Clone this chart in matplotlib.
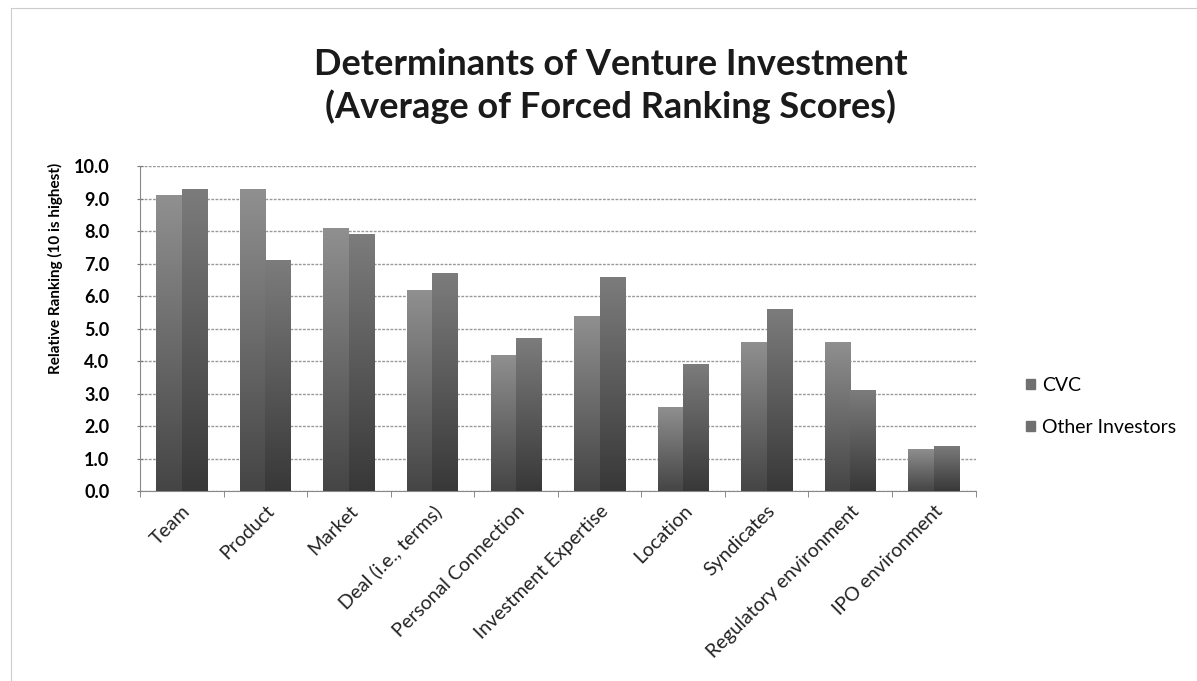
import numpy as np
import matplotlib.pyplot as plt
from matplotlib.patches import Rectangle
from matplotlib.colors import LinearSegmentedColormap

categories = ["Team", "Product", "Market", "Deal (i.e., terms)", "Personal Connection",
              "Investment Expertise", "Location", "Syndicates", "Regulatory environment",
              "IPO environment"]
cvc = [9.1, 9.3, 8.1, 6.2, 4.2, 5.4, 2.6, 4.6, 4.6, 1.3]  # CVC average scores
other = [9.3, 7.1, 7.9, 6.7, 4.7, 6.6, 3.9, 5.6, 3.1, 1.4]  # other investors
yticks = np.arange(0, 10.5, 1.0)

plt.rcParams['font.family'] = ['Lato', 'DejaVu Sans']

fig = plt.figure(figsize=(11.97, 6.81), dpi=100)
ax = fig.add_axes([0.117, 0.279, 0.698, 0.477])

x = np.arange(len(categories))
w = 0.305
cm_cvc = LinearSegmentedColormap.from_list("cvc", ["#454545", "#909090"])
cm_oth = LinearSegmentedColormap.from_list("oth", ["#383838", "#7c7c7c"])
grad = np.linspace(0, 1, 256).reshape(-1, 1)

bars1 = ax.bar(x - w / 2, cvc, w, color="#6e6e6e", label="CVC", zorder=3)
bars2 = ax.bar(x + w / 2, other, w, color="#5a5a5a", label="Other Investors", zorder=3)
# vertical shading on each bar, dark at the bottom
for bars, cm in [(bars1, cm_cvc), (bars2, cm_oth)]:
    for b in bars:
        x0, y0 = b.get_x(), b.get_y()
        im = ax.imshow(grad, cmap=cm, origin="lower", aspect="auto", zorder=4,
                       extent=[x0, x0 + b.get_width(), y0, y0 + b.get_height()])
        im.set_clip_path(b)

# axis setup
ax.set_xlim(-0.5, len(categories) - 0.5)
ax.set_ylim(0, 10)
ax.set_yticks(yticks)
ax.set_yticklabels(["%.1f" % v for v in yticks], fontsize=13, fontweight="bold")
ax.set_xticks(x)
ax.set_xticklabels(categories, rotation=45, ha="right", va="top", rotation_mode="anchor",
                   fontsize=14, color="#222222")
ax.tick_params(axis="x", length=0, pad=8)
ax.set_xticks(np.arange(-0.5, len(categories), 1.0), minor=True)
ax.tick_params(axis="x", which="minor", length=4, direction="out", color="#777777")
ax.tick_params(axis="y", length=4, direction="inout", color="#777777", pad=20)
ax.grid(axis="y", color="#999999", linestyle=(0, (2, 1)), linewidth=1, zorder=0)
for s in ["top", "right"]:
    ax.spines[s].set_visible(False)
for s in ["left", "bottom"]:
    ax.spines[s].set_color("#888888")
ax.set_ylabel("Relative Ranking (10 is highest)", fontsize=11, fontweight="bold")
ax.yaxis.set_label_coords(-0.092, 0.686)

leg = ax.legend(loc="center left", bbox_to_anchor=(1.04, 0.26), frameon=False, fontsize=14,
                handlelength=0.45, handleheight=0.45, handletextpad=0.35, labelspacing=1.3)
for h in leg.legend_handles:
    h.set_color("#707070")

fig.text(0.51, 0.905, "Determinants of Venture Investment", ha="center", va="center",
         fontsize=26, fontweight="bold", color="#1a1a1a")
fig.text(0.51, 0.843, "(Average of Forced Ranking Scores)", ha="center", va="center",
         fontsize=26, fontweight="bold", color="#1a1a1a")

# faint scan border
fig.patches.append(Rectangle((0.009, -0.01), 1.0, 0.998, transform=fig.transFigure,
                             fill=False, edgecolor="#cccccc", linewidth=0.8))

fig.savefig("out.png", dpi=100)
